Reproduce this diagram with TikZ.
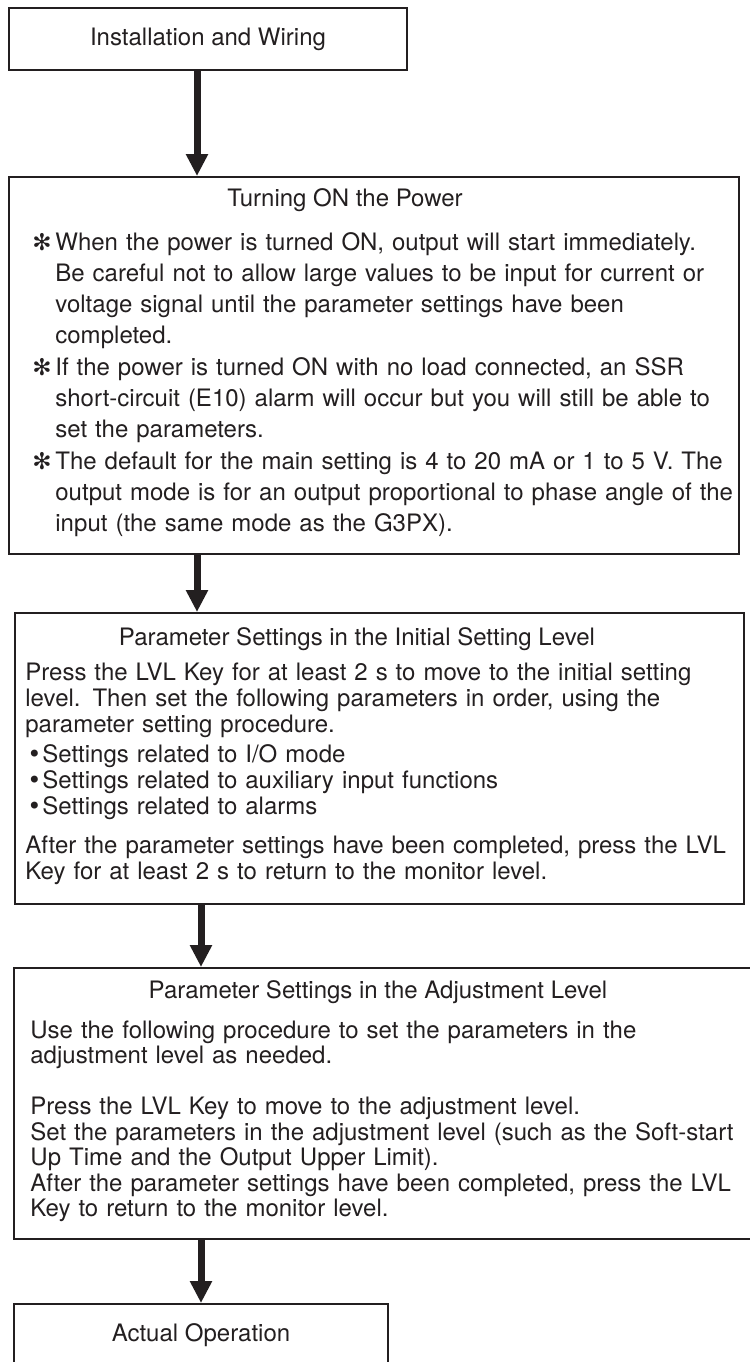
\documentclass[tikz,border=0pt]{standalone}
\usepackage{fontspec}
\setmainfont{TeX Gyre Heros}
\newfontfamily\dingfont{DejaVu Sans}
\usetikzlibrary{arrows.meta,positioning}
\definecolor{ink}{HTML}{231F20}
\newcommand{\bstar}{\makebox[11.5pt][l]{\dingfont\fontsize{11.5}{11.5}\selectfont ✻}}
\newcommand{\bgap}{\hspace*{11.5pt}}
\newcommand{\bdot}{\hspace*{1pt}\makebox[7.5pt][l]{\dingfont •}}
\tikzset{
  stage/.style={draw=ink, line width=1pt, inner sep=0pt, anchor=north west, text=ink},
  head/.style={inner sep=0pt, anchor=base, text=ink},
  body/.style={inner sep=0pt, anchor=base west, text=ink, text width=365pt, align=left},
  flow/.style={draw=ink, line width=3.5pt, -{Triangle[width=10.5pt,length=11pt]}}
}
\begin{document}
\begin{tikzpicture}[x=0.5pt, y=-0.5pt, font=\fontsize{12}{13}\selectfont]
\useasboundingbox (0,0) rectangle (750,1362);
% the five stages
\node[stage, minimum width=199pt, minimum height=31pt] (install) at (8,7) {Installation and Wiring};
\node[stage, minimum width=365pt, minimum height=188.5pt] (power) at (8,176) {};
\node[stage, minimum width=364.5pt, minimum height=145.5pt] (initial) at (14,612) {};
\node[stage, minimum width=374.5pt, minimum height=135.5pt] (adjust) at (13,967) {};
\node[stage, minimum width=187pt, minimum height=31pt] (operate) at (13,1303) {Actual Operation};
% texts inside the big boxes
\node[head] (power-title) at (345,206) {Turning ON the Power};
\node[body, font=\fontsize{12}{15.65}\selectfont] (power-notes) at (32,250) {\bstar When the power is turned ON, output will start immediately.\\
\bgap Be careful not to allow large values to be input for current or\\
\bgap voltage signal until the parameter settings have been\\
\bgap completed.\\
\bstar If the power is turned ON with no load connected, an SSR\\
\bgap short-circuit (E10) alarm will occur but you will still be able to\\
\bgap set the parameters.\\
\bstar The default for the main setting is 4 to 20 mA or 1 to 5 V. The\\
\bgap output mode is for an output proportional to phase angle of the\\
\bgap input (the same mode as the G3PX).};
\node[head] (initial-title) at (357,645) {Parameter Settings in the Initial Setting Level};
\node[body] (initial-steps) at (25,680) {Press the LVL Key for at least 2 s to move to the initial setting\\
level. Then set the following parameters in order, using the\\
parameter setting procedure.\\[2pt]
\bdot Settings related to I/O mode\\
\bdot Settings related to auxiliary input functions\\
\bdot Settings related to alarms\\[6.5pt]
After the parameter settings have been completed, press the LVL\\
Key for at least 2 s to return to the monitor level.};
\node[head] (adjust-title) at (378,998) {Parameter Settings in the Adjustment Level};
\node[body, font=\fontsize{12}{12.75}\selectfont] (adjust-steps) at (30,1038) {Use the following procedure to set the parameters in the\\
adjustment level as needed.\\[12.75pt]
Press the LVL Key to move to the adjustment level.\\
Set the parameters in the adjustment level (such as the Soft-start\\
Up Time and the Output Upper Limit).\\
After the parameter settings have been completed, press the LVL\\
Key to return to the monitor level.};
% arrows
\coordinate (spine) at (197,0);
\draw[flow] (install.south -| spine) -- (power.north -| spine);
\draw[flow] (power.south -| spine) -- (initial.north -| spine);
\draw[flow] (initial.south -| operate) -- (adjust.north -| operate);
\draw[flow] (adjust.south -| operate) -- (operate.north);
\end{tikzpicture}
\end{document}
